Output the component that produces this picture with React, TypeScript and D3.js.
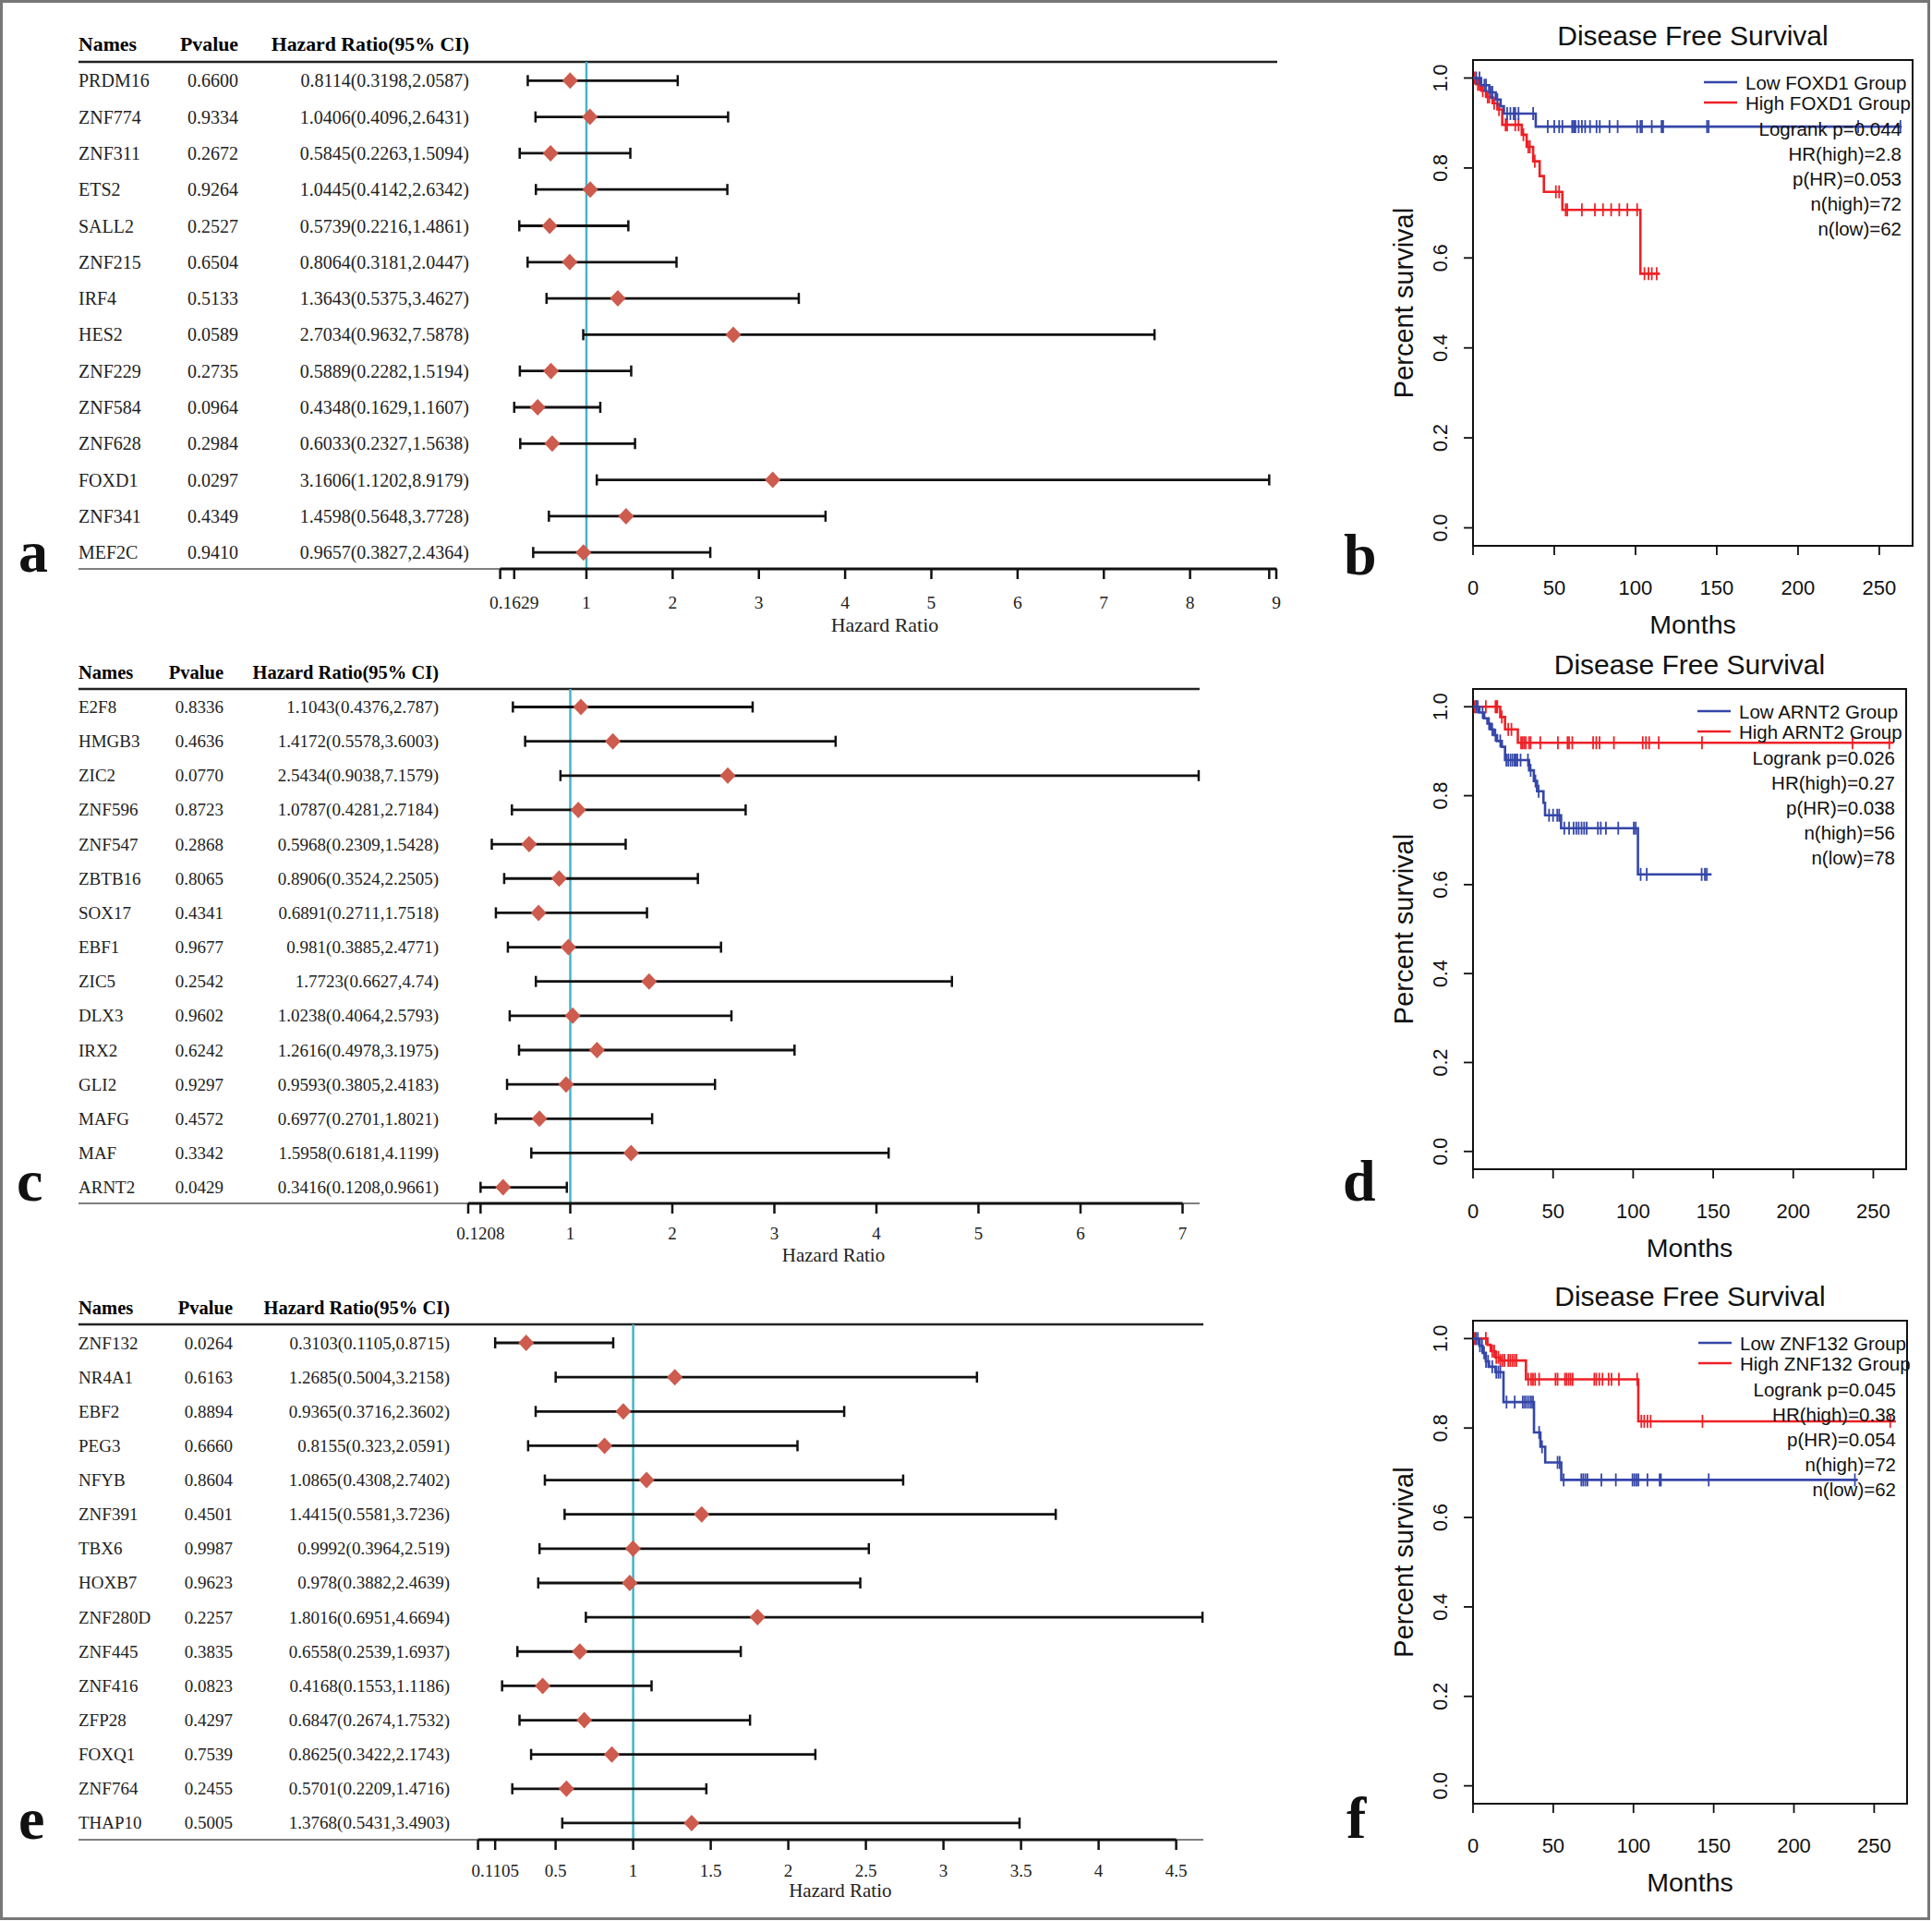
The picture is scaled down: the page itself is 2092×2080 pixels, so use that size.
import React from "react";
import * as d3 from "d3";

// ---------------- Forest plot data ----------------
// Panel a
const namesA = ["PRDM16","ZNF774","ZNF311","ETS2","SALL2","ZNF215","IRF4","HES2","ZNF229","ZNF584","ZNF628","FOXD1","ZNF341","MEF2C"];
const pvalA = [0.66,0.9334,0.2672,0.9264,0.2527,0.6504,0.5133,0.0589,0.2735,0.0964,0.2984,0.0297,0.4349,0.941];
const hrA = [0.8114,1.0406,0.5845,1.0445,0.5739,0.8064,1.3643,2.7034,0.5889,0.4348,0.6033,3.1606,1.4598,0.9657];
const loA = [0.3198,0.4096,0.2263,0.4142,0.2216,0.3181,0.5375,0.9632,0.2282,0.1629,0.2327,1.1202,0.5648,0.3827];
const hiA = [2.0587,2.6431,1.5094,2.6342,1.4861,2.0447,3.4627,7.5878,1.5194,1.1607,1.5638,8.9179,3.7728,2.4364];
const ticksA = [0,0.1629,1,2,3,4,5,6,7,8,8.9179,9];
const tickLabelsA = ["","0.1629","1","2","3","4","5","6","7","8","","9"];

// Panel c
const namesC = ["E2F8","HMGB3","ZIC2","ZNF596","ZNF547","ZBTB16","SOX17","EBF1","ZIC5","DLX3","IRX2","GLI2","MAFG","MAF","ARNT2"];
const pvalC = [0.8336,0.4636,0.077,0.8723,0.2868,0.8065,0.4341,0.9677,0.2542,0.9602,0.6242,0.9297,0.4572,0.3342,0.0429];
const hrC = [1.1043,1.4172,2.5434,1.0787,0.5968,0.8906,0.6891,0.981,1.7723,1.0238,1.2616,0.9593,0.6977,1.5958,0.3416];
const loC = [0.4376,0.5578,0.9038,0.4281,0.2309,0.3524,0.2711,0.3885,0.6627,0.4064,0.4978,0.3805,0.2701,0.6181,0.1208];
const hiC = [2.787,3.6003,7.1579,2.7184,1.5428,2.2505,1.7518,2.4771,4.74,2.5793,3.1975,2.4183,1.8021,4.1199,0.9661];
const ticksC = [0,0.1208,1,2,3,4,5,6,7];
const tickLabelsC = ["","0.1208","1","2","3","4","5","6","7"];

// Panel e
const namesE = ["ZNF132","NR4A1","EBF2","PEG3","NFYB","ZNF391","TBX6","HOXB7","ZNF280D","ZNF445","ZNF416","ZFP28","FOXQ1","ZNF764","THAP10"];
const pvalE = [0.0264,0.6163,0.8894,0.666,0.8604,0.4501,0.9987,0.9623,0.2257,0.3835,0.0823,0.4297,0.7539,0.2455,0.5005];
const hrE = [0.3103,1.2685,0.9365,0.8155,1.0865,1.4415,0.9992,0.978,1.8016,0.6558,0.4168,0.6847,0.8625,0.5701,1.3768];
const loE = [0.1105,0.5004,0.3716,0.323,0.4308,0.5581,0.3964,0.3882,0.6951,0.2539,0.1553,0.2674,0.3422,0.2209,0.5431];
const hiE = [0.8715,3.2158,2.3602,2.0591,2.7402,3.7236,2.519,2.4639,4.6694,1.6937,1.1186,1.7532,2.1743,1.4716,3.4903];
const ticksE = [0,0.1105,0.5,1,1.5,2,2.5,3,3.5,4,4.5];
const tickLabelsE = ["","0.1105","0.5","1","1.5","2","2.5","3","3.5","4","4.5"];

const forestHeaders = ["Names","Pvalue","Hazard Ratio(95% CI)"];
const forestAxisTitle = "Hazard Ratio";

// ---------------- Kaplan-Meier data ----------------
// b: FOXD1
const kmBLowSteps: [number, number][] = [[0,1],[5,0.984],[10,0.968],[14,0.952],[17,0.937],[19,0.921],[38.6,0.892]];
const kmBLowEnd = 263.8;
const kmBLowCensor = [2,4,7,8,11,12,15,21,23,25,26,28,37,46,50,53,55,61,62,63,65,67,69,72,76,78,84,89,101,103,104,110,116,117,144,145,237,263];
const kmBHighSteps: [number, number][] = [[0,1],[2,0.986],[5,0.972],[8,0.958],[12,0.944],[15,0.93],[18,0.896],[30,0.874],[33,0.847],[37,0.815],[41,0.782],[43.6,0.747],[55,0.707],[103,0.565]];
const kmBHighEnd = 115;
const kmBHighCensor = [1,3,4,6,9,10,13,16,20,21,26,28,31,34,35,38,51,53,57,58,67,75,80,85,90,95,101,105.5,108,110,113];
const kmBLegend = ["Low FOXD1 Group","High FOXD1 Group"];
const kmBStats = ["Logrank p=0.044","HR(high)=2.8","p(HR)=0.053","n(high)=72","n(low)=62"];

// d: ARNT2
const kmDLowSteps: [number, number][] = [[0,1],[4,0.987],[7,0.974],[9,0.962],[11,0.949],[13,0.936],[15,0.923],[18,0.91],[20,0.88],[35,0.857],[38,0.833],[40,0.81],[44,0.784],[45,0.756],[55,0.727],[103,0.623]];
const kmDLowEnd = 149;
const kmDLowCensor = [2,3,6,10,12,14,17,20.8,22,23.4,24.6,25.9,26.7,27.7,29.7,34.3,36,39,41,47.5,50,52.6,53.8,57,60,62.8,64.5,66,67.8,69.4,71,78,79.8,83,90.7,100.4,101.6,104.7,108.5,142.8,144.8,146];
const kmDHighSteps: [number, number][] = [[0,1],[17,0.977],[20,0.949],[28,0.919]];
const kmDHighEnd = 262.7;
const kmDHighCensor = [1,2,8,14,14.7,15.2,18,22,24,30,31,32,33,35,36,42,53,59,60,62,75,77,79,88,106,108,110,116,143,237,260];
const kmDLegend = ["Low ARNT2 Group","High ARNT2 Group"];
const kmDStats = ["Logrank p=0.026","HR(high)=0.27","p(HR)=0.038","n(high)=56","n(low)=78"];

// f: ZNF132
const kmFLowSteps: [number, number][] = [[0,1],[4,0.984],[6,0.968],[8,0.949],[10,0.937],[14,0.925],[19,0.858],[38,0.79],[42,0.758],[45,0.723],[55,0.684]];
const kmFLowEnd = 239.8;
const kmFLowCensor = [1.8,3,4.3,5.6,6.9,8.1,9.4,12,14.5,15.8,17,20.9,26,31,32.3,33.6,34.9,36.2,37.4,41.2,43,52.7,54,56.5,67.5,68.7,70,71.3,80,89,99.4,100.6,101.9,103.1,108.7,116.3,117.1,146.9,238];
const kmFHighSteps: [number, number][] = [[0,1],[9,0.986],[11,0.972],[14,0.958],[17,0.951],[33,0.909],[103,0.815]];
const kmFHighEnd = 263.5;
const kmFHighCensor = [1,8,12,13.2,14.5,15.8,17,18.3,19.6,22,23.2,24.5,25.7,27,34.4,36.2,37.4,38.7,41.2,51.4,52.7,57.3,58.3,59.6,60.8,62.1,75.6,76.8,78.7,80.7,84.5,86.3,90.9,102.3,104.9,106.7,108.7,110.7,143,260];
const kmFLegend = ["Low ZNF132 Group","High ZNF132 Group"];
const kmFStats = ["Logrank p=0.045","HR(high)=0.38","p(HR)=0.054","n(high)=72","n(low)=62"];

const kmTitle = "Disease Free Survival";
const kmXTicks = [0,50,100,150,200,250];
const kmYTicks = [0,0.2,0.4,0.6,0.8,1.0];

// ---------------- styles ----------------
const SERIF = "'Liberation Serif', 'Times New Roman', serif";
const SANS = "'Liberation Sans', Arial, Helvetica, sans-serif";
const DIAMOND = "#cd5b4e";
const REFLINE = "#46b4c8";
const BLUE = "#3446a8";
const RED = "#ee2026";

type ForestLayout = {
  headerY: number; headerLineY: number; row0: number; rowStep: number; axisY: number;
  x0: number; x1: number; xMax: number; nameX: number; pRight: number; hrRight: number;
  font: number; headerFont: number; tickFont: number; titleFont: number; tickLabelY: number; titleY: number;
};

function Forest(props: {
  names: string[]; pvals: number[]; hrs: number[]; los: number[]; his: number[];
  ticks: number[]; tickLabels: string[]; L: ForestLayout;
}) {
  const { names, pvals, hrs, los, his, ticks, tickLabels, L } = props;
  const x = d3.scaleLinear().domain([0, L.xMax]).range([L.x0, L.x1]);
  const yRow = (i: number) => L.row0 + i * L.rowStep;
  const maxHi = d3.max(his) as number;
  const maxTick = d3.max(ticks) as number;
  const lineEnd = Math.max(x(maxHi), x(maxTick)) + 1;
  const titleX = (x(0) + x(maxHi)) / 2;
  const cap = 6;
  const dw = 8.5, dh = 9;
  const diamond = d3.line<[number, number]>();
  return (
    <g fontFamily={SERIF}>
      <text x={L.nameX} y={L.headerY} fontSize={L.headerFont} fontWeight="bold" dominantBaseline="central">{forestHeaders[0]}</text>
      <text x={L.pRight} y={L.headerY} fontSize={L.headerFont} fontWeight="bold" textAnchor="end" dominantBaseline="central">{forestHeaders[1]}</text>
      <text x={L.hrRight} y={L.headerY} fontSize={L.headerFont} fontWeight="bold" textAnchor="end" dominantBaseline="central">{forestHeaders[2]}</text>
      <line x1={L.nameX} x2={lineEnd} y1={L.headerLineY} y2={L.headerLineY} stroke="#222" strokeWidth={2.5} />
      {names.map((n, i) => (
        <g key={n}>
          <text x={L.nameX} y={yRow(i)} fontSize={L.font} dominantBaseline="central" fill="#222">{n}</text>
          <text x={L.pRight} y={yRow(i)} fontSize={L.font} textAnchor="end" dominantBaseline="central" fill="#222">{pvals[i].toFixed(4)}</text>
          <text x={L.hrRight} y={yRow(i)} fontSize={L.font} textAnchor="end" dominantBaseline="central" fill="#222">{`${hrs[i]}(${los[i]},${his[i]})`}</text>
        </g>
      ))}
      <line x1={x(1)} x2={x(1)} y1={L.headerLineY} y2={L.axisY} stroke={REFLINE} strokeWidth={2.5} />
      {names.map((n, i) => {
        const yy = yRow(i);
        const pts: [number, number][] = [[x(hrs[i]) - dw, yy], [x(hrs[i]), yy - dh], [x(hrs[i]) + dw, yy], [x(hrs[i]), yy + dh]];
        return (
          <g key={"b" + n}>
            <line x1={x(los[i])} x2={x(his[i])} y1={yy} y2={yy} stroke="#111" strokeWidth={2.8} />
            <line x1={x(los[i])} x2={x(los[i])} y1={yy - cap} y2={yy + cap} stroke="#111" strokeWidth={2.5} />
            <line x1={x(his[i])} x2={x(his[i])} y1={yy - cap} y2={yy + cap} stroke="#111" strokeWidth={2.5} />
            <path d={diamond(pts) + "Z"} fill={DIAMOND} />
          </g>
        );
      })}
      <line x1={L.nameX} x2={lineEnd} y1={L.axisY} y2={L.axisY} stroke="#555" strokeWidth={1.5} />
      <line x1={x(0)} x2={x(maxTick)} y1={L.axisY} y2={L.axisY} stroke="#111" strokeWidth={3} />
      {ticks.map((t, i) => (
        <g key={"t" + i}>
          <line x1={x(t)} x2={x(t)} y1={L.axisY} y2={L.axisY + 11} stroke="#111" strokeWidth={2.5} />
          {tickLabels[i] !== "" && (
            <text x={x(t)} y={L.tickLabelY} fontSize={L.tickFont} textAnchor="middle" dominantBaseline="central" fill="#222">{tickLabels[i]}</text>
          )}
        </g>
      ))}
      <text x={titleX} y={L.titleY} fontSize={L.titleFont} textAnchor="middle" dominantBaseline="central" fill="#222">{forestAxisTitle}</text>
    </g>
  );
}

type KMLayout = { left: number; right: number; top: number; bottom: number; xMax: number };

function stepAt(steps: [number, number][], t: number) {
  let s = steps[0][1];
  for (const [tt, ss] of steps) if (tt <= t) s = ss;
  return s;
}

function KMPanel(props: {
  L: KMLayout; legend: string[]; stats: string[];
  lowSteps: [number, number][]; lowEnd: number; lowCensor: number[];
  highSteps: [number, number][]; highEnd: number; highCensor: number[];
}) {
  const { L, legend, stats } = props;
  const x = d3.scaleLinear().domain([0, L.xMax]).range([L.left, L.right]);
  const y = d3.scaleLinear().domain([-0.04, 1.04]).range([L.bottom, L.top]);
  const line = d3.line<[number, number]>().x(d => x(d[0])).y(d => y(d[1])).curve(d3.curveStepAfter);
  const curve = (steps: [number, number][], end: number, censor: number[], color: string) => {
    const pts: [number, number][] = [...steps, [end, steps[steps.length - 1][1]]];
    return (
      <g>
        <path d={line(pts) || ""} fill="none" stroke={color} strokeWidth={2.6} />
        {censor.map((t, i) => {
          const yy = y(stepAt(steps, t));
          return <line key={i} x1={x(t)} x2={x(t)} y1={yy - 7} y2={yy + 7} stroke={color} strokeWidth={1.8} />;
        })}
      </g>
    );
  };
  const midY = (L.top + L.bottom) / 2;
  const midX = (L.left + L.right) / 2;
  return (
    <g fontFamily={SANS} fill="#111">
      <text x={midX} y={L.top - 27} fontSize={30} textAnchor="middle" dominantBaseline="central">{kmTitle}</text>
      <rect x={L.left} y={L.top} width={L.right - L.left} height={L.bottom - L.top} fill="none" stroke="#111" strokeWidth={2} />
      {kmYTicks.map(t => (
        <g key={"y" + t}>
          <line x1={L.left - 10} x2={L.left} y1={y(t)} y2={y(t)} stroke="#111" strokeWidth={1.8} />
          <text transform={`translate(${L.left - 35},${y(t)}) rotate(-90)`} fontSize={21.5} textAnchor="middle" dominantBaseline="central">{t.toFixed(1)}</text>
        </g>
      ))}
      {kmXTicks.map(t => (
        <g key={"x" + t}>
          <line x1={x(t)} x2={x(t)} y1={L.bottom} y2={L.bottom + 10} stroke="#111" strokeWidth={1.8} />
          <text x={x(t)} y={L.bottom + 45} fontSize={22} textAnchor="middle" dominantBaseline="central">{t}</text>
        </g>
      ))}
      <text x={midX} y={L.bottom + 85} fontSize={28.5} textAnchor="middle" dominantBaseline="central">Months</text>
      <text transform={`translate(${L.left - 75},${midY}) rotate(-90)`} fontSize={29} textAnchor="middle" dominantBaseline="central">Percent survival</text>
      {curve(props.highSteps, props.highEnd, props.highCensor, RED)}
      {curve(props.lowSteps, props.lowEnd, props.lowCensor, BLUE)}
      <line x1={L.right - 226} x2={L.right - 190} y1={L.top + 24} y2={L.top + 24} stroke={BLUE} strokeWidth={2.6} />
      <line x1={L.right - 226} x2={L.right - 190} y1={L.top + 46} y2={L.top + 46} stroke={RED} strokeWidth={2.6} />
      <text x={L.right - 181} y={L.top + 24} fontSize={20.5} dominantBaseline="central">{legend[0]}</text>
      <text x={L.right - 181} y={L.top + 46} fontSize={20.5} dominantBaseline="central">{legend[1]}</text>
      {stats.map((s, i) => (
        <text key={s} x={L.right - 12} y={L.top + 74 + i * 27} fontSize={20.5} textAnchor="end" dominantBaseline="central">{s}</text>
      ))}
    </g>
  );
}

const layoutA: ForestLayout = { headerY: 48, headerLineY: 67, row0: 87.3, rowStep: 39.3, axisY: 616, x0: 541.6, x1: 1382, xMax: 9, nameX: 85, pRight: 258, hrRight: 508, font: 20, headerFont: 21.8, tickFont: 19.5, titleFont: 22, tickLabelY: 652, titleY: 676 };
const layoutC: ForestLayout = { headerY: 728, headerLineY: 746, row0: 765.5, rowStep: 37.15, axisY: 1303, x0: 507, x1: 1280.5, xMax: 7, nameX: 85, pRight: 242, hrRight: 475, font: 19, headerFont: 20.5, tickFont: 19, titleFont: 21, tickLabelY: 1335, titleY: 1359 };
const layoutE: ForestLayout = { headerY: 1416, headerLineY: 1434, row0: 1454, rowStep: 37.14, axisY: 1992, x0: 517.6, x1: 1273.6, xMax: 4.5, nameX: 85, pRight: 252, hrRight: 487, font: 19, headerFont: 20.5, tickFont: 19, titleFont: 21, tickLabelY: 2025, titleY: 2047 };

const kmLayoutB: KMLayout = { left: 1595, right: 2071, top: 65, bottom: 591, xMax: 270.5 };
const kmLayoutD: KMLayout = { left: 1595, right: 2064, top: 746, bottom: 1266, xMax: 270.5 };
const kmLayoutF: KMLayout = { left: 1595, right: 2065, top: 1430, bottom: 1953, xMax: 270.5 };

const panelLetters = [
  { t: "a", x: 20, y: 619 }, { t: "b", x: 1455, y: 622 },
  { t: "c", x: 18, y: 1300 }, { t: "d", x: 1454, y: 1300 },
  { t: "e", x: 20, y: 1991 }, { t: "f", x: 1458, y: 1990 },
];

export default function App() {
  return (
    <svg width={2092} height={2080} style={{ position: "absolute", left: 0, top: 0, display: "block", background: "#fff" }}>
      <rect x={0} y={0} width={2092} height={2080} fill="#fff" />
      <rect x={1.5} y={1.5} width={2087} height={2076} fill="none" stroke="#777" strokeWidth={3} />
      <Forest names={namesA} pvals={pvalA} hrs={hrA} los={loA} his={hiA} ticks={ticksA} tickLabels={tickLabelsA} L={layoutA} />
      <Forest names={namesC} pvals={pvalC} hrs={hrC} los={loC} his={hiC} ticks={ticksC} tickLabels={tickLabelsC} L={layoutC} />
      <Forest names={namesE} pvals={pvalE} hrs={hrE} los={loE} his={hiE} ticks={ticksE} tickLabels={tickLabelsE} L={layoutE} />
      <KMPanel L={kmLayoutB} legend={kmBLegend} stats={kmBStats} lowSteps={kmBLowSteps} lowEnd={kmBLowEnd} lowCensor={kmBLowCensor} highSteps={kmBHighSteps} highEnd={kmBHighEnd} highCensor={kmBHighCensor} />
      <KMPanel L={kmLayoutD} legend={kmDLegend} stats={kmDStats} lowSteps={kmDLowSteps} lowEnd={kmDLowEnd} lowCensor={kmDLowCensor} highSteps={kmDHighSteps} highEnd={kmDHighEnd} highCensor={kmDHighCensor} />
      <KMPanel L={kmLayoutF} legend={kmFLegend} stats={kmFStats} lowSteps={kmFLowSteps} lowEnd={kmFLowEnd} lowCensor={kmFLowCensor} highSteps={kmFHighSteps} highEnd={kmFHighEnd} highCensor={kmFHighCensor} />
      {panelLetters.map(p => (
        <text key={p.t} x={p.x} y={p.y} fontFamily={SERIF} fontWeight="bold" fontSize={64} fill="#111">{p.t}</text>
      ))}
    </svg>
  );
}
